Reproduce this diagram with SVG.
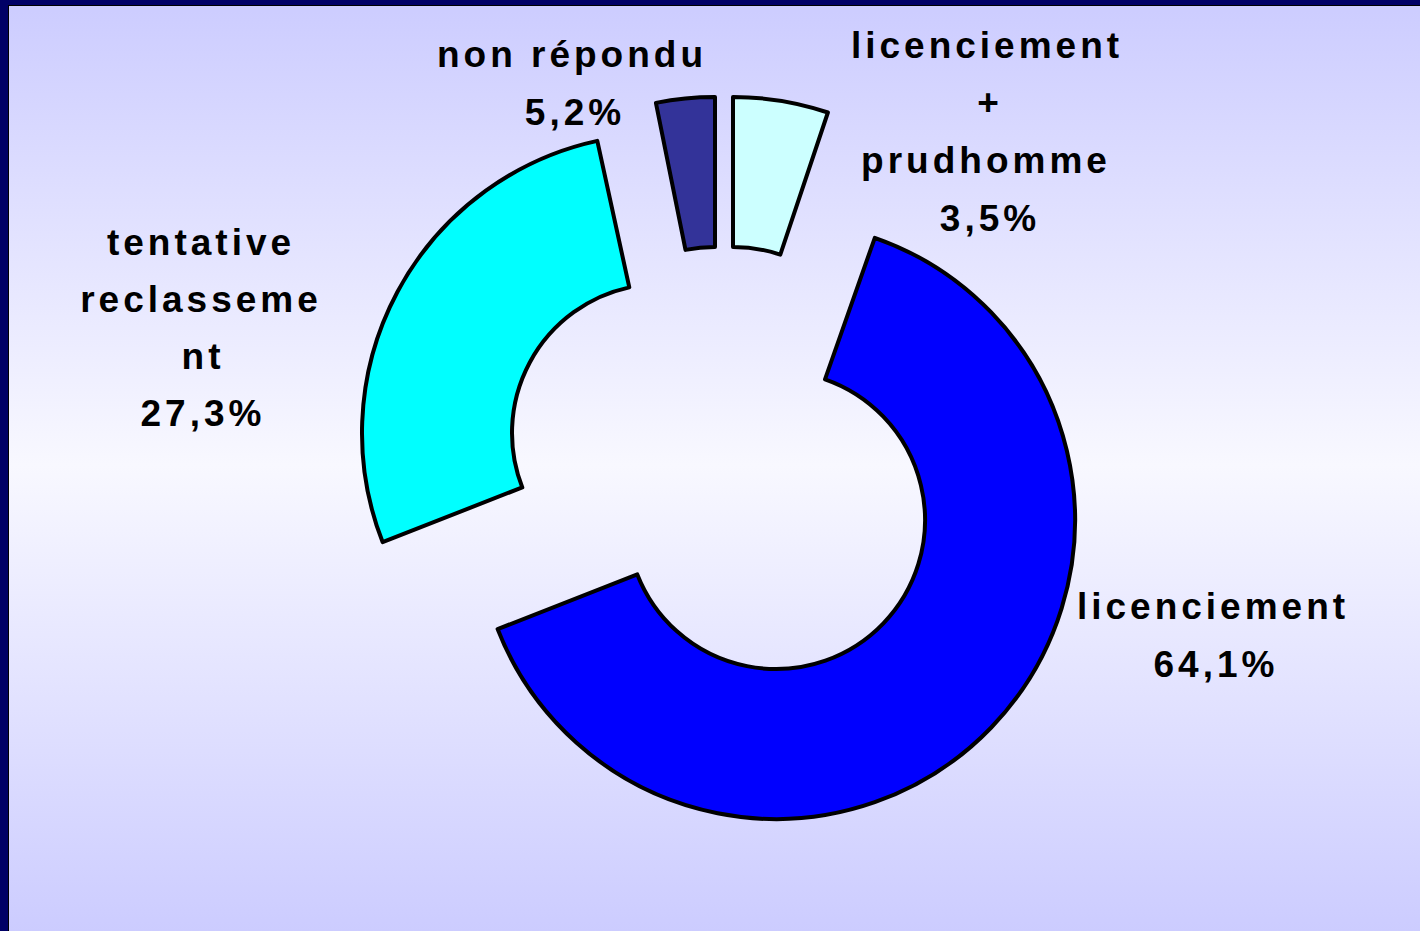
<svg xmlns="http://www.w3.org/2000/svg" width="1420" height="931" viewBox="0 0 1420 931">
<defs>
<linearGradient id="bg" x1="0" y1="0" x2="0" y2="1">
<stop offset="0" stop-color="#ccccff"/>
<stop offset="0.5" stop-color="#f8f8ff"/>
<stop offset="1" stop-color="#ccccff"/>
</linearGradient>
</defs>
<style>
.slice{stroke:#000;stroke-width:4;stroke-linejoin:round}
.lbl{font-family:"Liberation Sans",Arial,sans-serif;font-weight:bold;font-size:37px;fill:#000;text-anchor:middle;letter-spacing:4px}
</style>
<rect x="0" y="0" width="1420" height="931" fill="url(#bg)"/>
<rect x="0" y="0" width="1420" height="5" fill="#000066"/>
<rect x="0" y="0" width="8" height="931" fill="#000066"/>
<line x1="8" y1="5.5" x2="1420" y2="5.5" stroke="#000" stroke-width="1"/>
<line x1="8.5" y1="5" x2="8.5" y2="931" stroke="#000" stroke-width="1"/>
<g id="slices">
<g id="licenciement"><path class="slice" fill="#0000ff" d="M874.8,237.8 A299,299 0 1 1 497.6,629.1 L637.3,574.4 A149,149 0 1 0 825.0,379.3 Z"/></g>
<g id="tentative"><path class="slice" fill="#00ffff" d="M382.6,542.1 A299,299 0 0 1 597.3,140.9 L629.3,287.4 A149,149 0 0 0 522.3,487.4 Z"/></g>
<g id="non-repondu"><path class="slice" fill="#333399" d="M655.9,102.9 A299,299 0 0 1 715,97 L715,247 A149,149 0 0 0 685.5,249.9 Z"/></g>
<g id="licenciement-prudhomme"><path class="slice" fill="#ccffff" d="M733,97 A299,299 0 0 1 827.9,112.5 L780.3,254.7 A149,149 0 0 0 733,247 Z"/></g>
</g>
<g id="labels">
<text class="lbl" x="572" y="67">non répondu</text>
<text class="lbl" x="575" y="125">5,2%</text>
<text class="lbl" x="987" y="58">licenciement</text>
<text class="lbl" x="990" y="115">+</text>
<text class="lbl" x="986" y="173">prudhomme</text>
<text class="lbl" x="990" y="231">3,5%</text>
<text class="lbl" x="201" y="255">tentative</text>
<text class="lbl" x="201" y="312">reclasseme</text>
<text class="lbl" x="203" y="369">nt</text>
<text class="lbl" x="203" y="426">27,3%</text>
<text class="lbl" x="1213" y="619">licenciement</text>
<text class="lbl" x="1216" y="677">64,1%</text>
</g>
</svg>
